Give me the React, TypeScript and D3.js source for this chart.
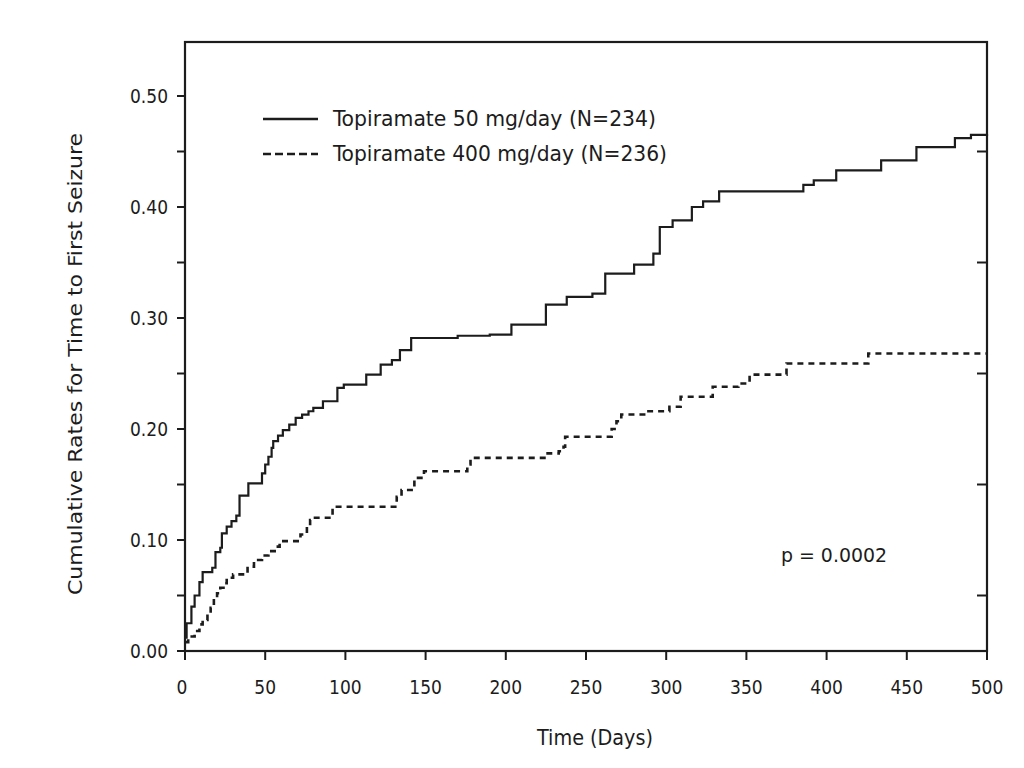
import React from "react";
import * as d3 from "d3";

// Topiramate 50 mg/day (N=234) — step times (days) and cumulative rates
const lowDoseDays = [0, 1, 4, 6, 9, 11, 17, 19, 22, 23, 26, 29, 32, 34, 39.5, 48, 50, 52, 54, 55, 58, 61, 65, 69, 73, 77, 80, 86, 95, 99, 113, 122, 129, 134, 141, 170, 190, 203.5, 225, 238, 254, 262, 280, 292, 296, 304, 316, 323, 333, 385.5, 392, 406, 434, 456, 480, 490, 500];
const lowDoseRates = [0.012, 0.025, 0.04, 0.05, 0.062, 0.071, 0.075, 0.089, 0.093, 0.106, 0.112, 0.117, 0.122, 0.14, 0.151, 0.16, 0.168, 0.175, 0.183, 0.189, 0.194, 0.199, 0.204, 0.21, 0.213, 0.216, 0.219, 0.225, 0.237, 0.24, 0.249, 0.258, 0.262, 0.271, 0.282, 0.284, 0.285, 0.294, 0.312, 0.319, 0.322, 0.34, 0.348, 0.358, 0.382, 0.388, 0.4, 0.405, 0.414, 0.42, 0.424, 0.433, 0.442, 0.454, 0.462, 0.465, 0.466];

// Topiramate 400 mg/day (N=236)
const highDoseDays = [0, 2, 6, 9, 11, 14, 16, 18, 20, 22, 24, 26, 30, 39, 43, 48, 52, 57, 59, 72, 76, 78, 80, 92, 132, 135, 143, 149, 176, 178, 225, 233, 236, 237, 266, 269, 272, 288, 302, 309, 329, 345, 352, 375, 426, 500];
const highDoseRates = [0.008, 0.013, 0.018, 0.024, 0.028, 0.034, 0.039, 0.047, 0.052, 0.057, 0.061, 0.066, 0.069, 0.076, 0.082, 0.086, 0.09, 0.094, 0.099, 0.105, 0.112, 0.118, 0.12, 0.13, 0.139, 0.145, 0.156, 0.162, 0.168, 0.174, 0.178, 0.18, 0.184, 0.193, 0.2, 0.207, 0.213, 0.216, 0.22, 0.229, 0.238, 0.241, 0.249, 0.259, 0.268, 0.268];

const xTicks = [0, 50, 100, 150, 200, 250, 300, 350, 400, 450, 500];
const yMajorTicks = [0, 0.1, 0.2, 0.3, 0.4, 0.5];
const yMinorTicks = [0.05, 0.15, 0.25, 0.35, 0.45];

const seriesLabels = ["Topiramate 50 mg/day (N=234)", "Topiramate 400 mg/day (N=236)"];
const pValueLabel = "p = 0.0002";
const xTitle = "Time (Days)";
const yTitle = "Cumulative Rates for Time to First Seizure";

const FONT = "'Liberation Sans Narrow', 'DejaVu Sans Condensed', 'Liberation Sans', sans-serif";

export default function App() {
  const x = d3.scaleLinear().domain([0, 500]).range([185, 987]);
  const y = d3.scaleLinear().domain([0, 0.5]).range([651, 96]);
  const top = 42;

  const line = d3
    .line<[number, number]>()
    .x((d) => x(d[0]))
    .y((d) => y(d[1]))
    .curve(d3.curveStepAfter);

  const low: [number, number][] = lowDoseDays.map((d, i) => [d, lowDoseRates[i]]);
  const high: [number, number][] = highDoseDays.map((d, i) => [d, highDoseRates[i]]);

  const ink = "#1c1c1c";

  return (
    <svg
      width={1024}
      height={768}
      style={{ position: "absolute", left: 0, top: 0, background: "#fff" }}
      fontFamily={FONT}
    >
      <rect x={0} y={0} width={1024} height={768} fill="#fff" />
      {/* curves */}
      <path d={line(low) || ""} fill="none" stroke={ink} strokeWidth={2.2} />
      <path d={line(high) || ""} fill="none" stroke={ink} strokeWidth={2.6} strokeDasharray="6,5" />

      {/* frame */}
      <rect x={x(0)} y={top} width={x(500) - x(0)} height={y(0) - top} fill="none" stroke={ink} strokeWidth={2.2} />

      {/* left ticks */}
      {[...yMajorTicks, ...yMinorTicks].map((t) => (
        <line key={"yl" + t} x1={x(0) - 8} x2={x(0)} y1={y(t)} y2={y(t)} stroke={ink} strokeWidth={2} />
      ))}
      {yMajorTicks.map((t) => (
        <text key={"ylab" + t} x={168} y={y(t) + 6.5} textAnchor="end" fontSize={19} fill={ink}>
          {t.toFixed(2)}
        </text>
      ))}
      {/* right ticks */}
      {yMinorTicks.map((t) => (
        <line key={"yr" + t} x1={x(500) - 10} x2={x(500)} y1={y(t)} y2={y(t)} stroke={ink} strokeWidth={2} />
      ))}

      {/* bottom ticks */}
      {xTicks.map((t) => (
        <g key={"xt" + t}>
          <line x1={x(t)} x2={x(t)} y1={y(0)} y2={y(0) + 9} stroke={ink} strokeWidth={2} />
          <text x={x(t) - (t === 0 ? 3 : 0)} y={694} textAnchor="middle" fontSize={19} fill={ink}>
            {t}
          </text>
        </g>
      ))}

      {/* axis titles */}
      <text x={595} y={745} textAnchor="middle" fontSize={21} fill={ink} textLength={116} lengthAdjust="spacingAndGlyphs">
        {xTitle}
      </text>
      <text
        transform="translate(82,364) rotate(-90)"
        textAnchor="middle"
        fontSize={20}
        fill={ink}
        textLength={462}
        lengthAdjust="spacingAndGlyphs"
      >
        {yTitle}
      </text>

      {/* legend */}
      <line x1={263} x2={318} y1={119} y2={119} stroke={ink} strokeWidth={2.4} />
      <line x1={263} x2={318} y1={154} y2={154} stroke={ink} strokeWidth={2.4} strokeDasharray="8,4" />
      <text x={333} y={126} fontSize={21} fill={ink} textLength={323} lengthAdjust="spacingAndGlyphs">
        {seriesLabels[0]}
      </text>
      <text x={333} y={161} fontSize={21} fill={ink} textLength={334} lengthAdjust="spacingAndGlyphs">
        {seriesLabels[1]}
      </text>

      {/* p value */}
      <text x={781} y={562} fontSize={20} fill={ink} textLength={106} lengthAdjust="spacingAndGlyphs">
        {pValueLabel}
      </text>
    </svg>
  );
}
